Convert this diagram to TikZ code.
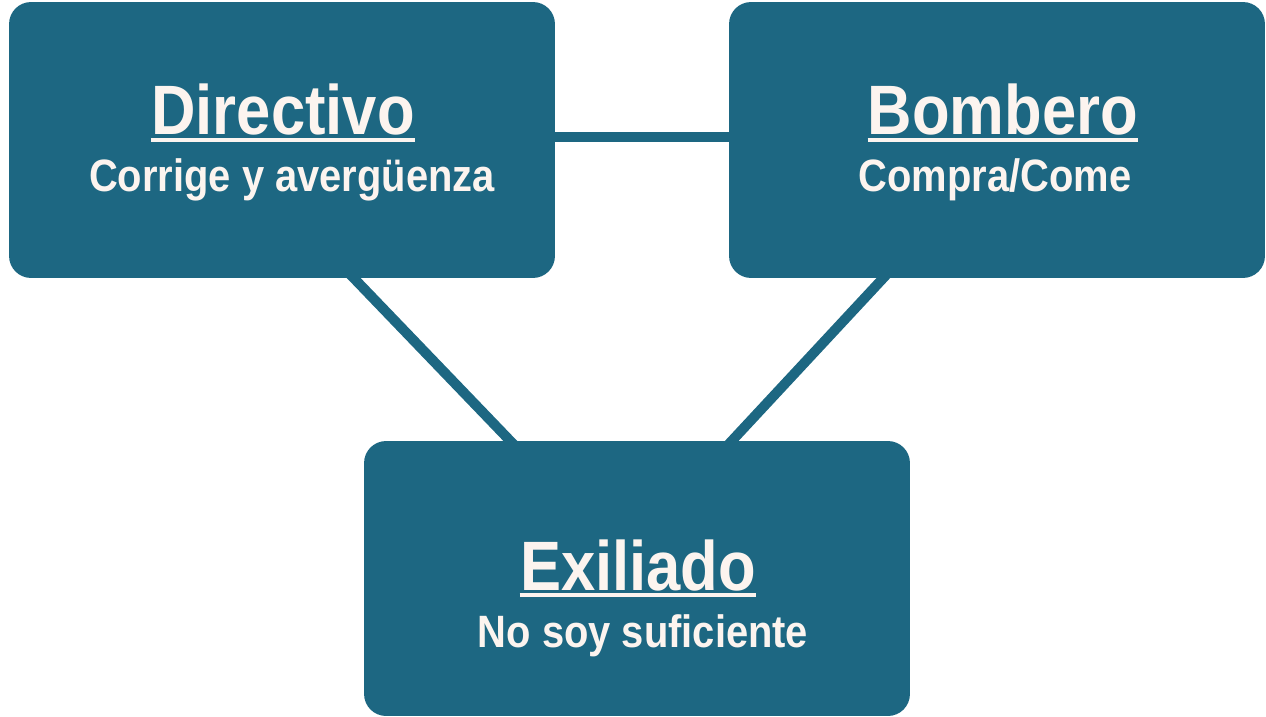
\documentclass[tikz,border=0pt]{standalone}
\usepackage{fontspec}
\setmainfont{Liberation Sans}[FakeStretch=0.88]
\usetikzlibrary{backgrounds}
\definecolor{boxblue}{HTML}{1D6782}
\definecolor{cream}{HTML}{FCF4EF}
\tikzset{
  rolebox/.style={fill=boxblue, rounded corners=0.44cm, minimum width=10.92cm, minimum height=5.52cm, inner sep=0pt},
  roletitle/.style={text=cream, font=\bfseries\fontsize{39.8}{40}\selectfont, inner sep=0pt, anchor=base},
  rolesub/.style={text=cream, font=\bfseries\fontsize{25.8}{27}\selectfont, inner sep=0pt, anchor=base},
  titleline/.style={cream, line width=0.08cm},
  link/.style={boxblue, line width=0.2cm}
}
\begin{document}
\begin{tikzpicture}[x=0.02cm,y=-0.02cm]
\useasboundingbox (0,0) rectangle (1266,716);

\node[rolebox] (dir) at (282,140) {};
\node[rolebox, minimum width=10.72cm] (bomb) at (997,140) {};
\node[rolebox, minimum height=5.5cm] (exi) at (637,578.5) {};

\node[roletitle] (dirT) at (283,135) {Directivo};
\node[rolesub] (dirS) at (292,192) {Corrige y avergüenza};
\node[roletitle] (bombT) at (1003,135) {Bombero};
\node[rolesub] (bombS) at (995,192) {Compra/Come};
\node[roletitle] (exiT) at (638,590) {Exiliado};
\node[rolesub] (exiS) at (643,647) {No soy suficiente};

\draw[titleline] ([yshift=-0.094cm]dirT.base west) -- ([yshift=-0.094cm]dirT.base east);
\draw[titleline] ([yshift=-0.094cm]bombT.base west) -- ([yshift=-0.094cm]bombT.base east);
\draw[titleline] ([yshift=-0.094cm]exiT.base west) -- ([yshift=-0.094cm]exiT.base east);

\begin{scope}[on background layer]
\draw[link] ([yshift=0.06cm]dir.east) -- ([yshift=0.06cm]bomb.west);
\draw[link, shorten <=-6pt, shorten >=-6pt] ([xshift=1.44cm]dir.south) -- ([xshift=-2.54cm]exi.north);
\draw[link, shorten <=-6pt, shorten >=-6pt] ([xshift=-2.28cm]bomb.south) -- ([xshift=1.9cm]exi.north);
\end{scope}
\end{tikzpicture}
\end{document}
